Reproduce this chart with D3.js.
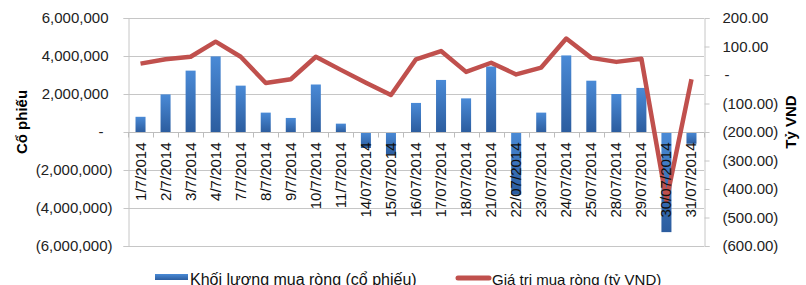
<!DOCTYPE html>
<html>
<head>
<meta charset="utf-8">
<script src="https://cdn.jsdelivr.net/npm/d3@7"></script>
<style>
  body { margin: 0; background: #fff; }
  text { font-family: "Liberation Sans", Arial, sans-serif; }
</style>
</head>
<body>
<script>
// categories (trading days, July 2014)
var dates = ["1/7/2014", "2/7/2014", "3/7/2014", "4/7/2014", "7/7/2014", "8/7/2014",
  "9/7/2014", "10/7/2014", "11/7/2014", "14/07/2014", "15/07/2014", "16/07/2014",
  "17/07/2014", "18/07/2014", "21/07/2014", "22/07/2014", "23/07/2014", "24/07/2014",
  "25/07/2014", "28/07/2014", "29/07/2014", "30/07/2014", "31/07/2014"];

// net buy volume (shares)
var volume = [800000, 1980000, 3230000, 3980000, 2440000, 1020000, 740000, 2500000,
  440000, -840000, -1190000, 1530000, 2740000, 1770000, 3450000, -3300000, 1020000,
  4030000, 2700000, 2000000, 2320000, -5270000, -620000];

// net buy value (billion VND)
var value = [40, 55, 64, 117, 64, -28, -15, 64, 18, -27, -70, 55, 84, 11, 43, 2, 26,
  128, 60, 46, 57, -440, -15];

var leftTicks = [-6000000, -4000000, -2000000, 0, 2000000, 4000000, 6000000];
var rightTicks = [-600, -500, -400, -300, -200, -100, 0, 100, 200];

var W = 806, H = 285;
var x0 = 128, x1 = 704, yTop = 18, yBot = 246;

var svg = d3.select("body").append("svg")
    .attr("width", W)
    .attr("height", H);

var defs = svg.append("defs");
var grad = defs.append("linearGradient")
    .attr("id", "barGrad")
    .attr("x1", 0).attr("y1", 0).attr("x2", 0).attr("y2", 1);
grad.append("stop").attr("offset", "0%").attr("stop-color", "#4a8ad6");
grad.append("stop").attr("offset", "100%").attr("stop-color", "#2c5d9f");

var x = d3.scaleBand()
    .domain(dates)
    .range([x0, x1])
    .paddingInner(0.6)
    .paddingOuter(0.3);

var yL = d3.scaleLinear().domain([-6000000, 6000000]).range([yBot, yTop]);
var yR = d3.scaleLinear().domain([-600, 200]).range([yBot, yTop]);

var fmtL = function (v) {
  if (v === 0) return "-";
  var s = d3.format(",")(Math.abs(v));
  return v < 0 ? "(" + s + ")" : s;
};
var fmtR = function (v) {
  if (v === 0) return "-";
  var s = d3.format(".2f")(Math.abs(v));
  return v < 0 ? "(" + s + ")" : s;
};

// gridlines
svg.append("g").selectAll("line")
    .data(leftTicks)
    .enter().append("line")
    .attr("x1", x0).attr("x2", x1)
    .attr("y1", function (d) { return Math.round(yL(d)) + 0.5; })
    .attr("y2", function (d) { return Math.round(yL(d)) + 0.5; })
    .attr("stroke", "#c6c6c6")
    .attr("stroke-width", 1);

// left axis
var axL = svg.append("g").attr("transform", "translate(" + (x0 + 0.5) + ",0)");
axL.call(d3.axisLeft(yL).tickValues(leftTicks).tickSize(5).tickFormat(fmtL));
axL.select(".domain").attr("stroke", "#c6c6c6");
axL.selectAll(".tick line").attr("stroke", "#c6c6c6");
axL.selectAll(".tick text")
    .attr("font-size", "15px")
    .attr("fill", "#222")
    .attr("font-family", "Liberation Sans, Arial, sans-serif")
    .attr("x", function (d) { return d < 0 ? -16 : (d === 0 ? -25 : -20); });

// right axis
var axR = svg.append("g").attr("transform", "translate(" + (x1 + 0.5) + ",0)");
axR.call(d3.axisRight(yR).tickValues(rightTicks).tickSize(5).tickFormat(fmtR));
axR.select(".domain").attr("stroke", "#c6c6c6");
axR.selectAll(".tick line").attr("stroke", "#c6c6c6");
axR.selectAll(".tick text")
    .attr("font-size", "15px")
    .attr("fill", "#222")
    .attr("font-family", "Liberation Sans, Arial, sans-serif")
    .attr("x", function (d) { return d === 0 ? 20 : 18; });

// bars
svg.append("g").selectAll("rect")
    .data(volume)
    .enter().append("rect")
    .attr("x", function (d, i) { return x(dates[i]); })
    .attr("width", x.bandwidth())
    .attr("y", function (d) { return yL(Math.max(0, d)); })
    .attr("height", function (d) { return Math.abs(yL(d) - yL(0)); })
    .attr("fill", "url(#barGrad)");

// category axis line + ticks
var y0 = Math.round(yL(0)) + 0.5;
svg.append("line")
    .attr("x1", x0).attr("x2", x1)
    .attr("y1", y0).attr("y2", y0)
    .attr("stroke", "#bdbdbd");
svg.append("g").selectAll("line")
    .data(dates.concat(["end"]))
    .enter().append("line")
    .attr("x1", function (d, i) { return Math.round(x0 + i * x.step()) + 0.5; })
    .attr("x2", function (d, i) { return Math.round(x0 + i * x.step()) + 0.5; })
    .attr("y1", y0).attr("y2", y0 + 5)
    .attr("stroke", "#bdbdbd");

// line series
var line = d3.line()
    .x(function (d, i) { return x(dates[i]) + x.bandwidth() / 2; })
    .y(function (d) { return yR(d); });
svg.append("path")
    .datum(value)
    .attr("d", line)
    .attr("fill", "none")
    .attr("stroke", "#c0504d")
    .attr("stroke-width", 4.5)
    .attr("stroke-linejoin", "round");

// category labels (rotated, on top)
svg.append("g").selectAll("text")
    .data(dates)
    .enter().append("text")
    .attr("transform", function (d) {
      return "translate(" + (x(d) + x.bandwidth() / 2 + 5) + "," + (y0 + 10) + ") rotate(-90)";
    })
    .attr("text-anchor", "end")
    .attr("font-size", "15px")
    .attr("fill", "#111")
    .text(function (d) { return d; });

// axis titles
svg.append("text")
    .attr("transform", "translate(27,122) rotate(-90)")
    .attr("text-anchor", "middle")
    .attr("font-size", "15px")
    .attr("font-weight", "bold")
    .text("Cổ phiếu");
svg.append("text")
    .attr("transform", "translate(796,122) rotate(-90)")
    .attr("text-anchor", "middle")
    .attr("font-size", "15px")
    .attr("font-weight", "bold")
    .text("Tỷ VND");

// legend
var lg = svg.append("g");
lg.append("rect")
    .attr("x", 155).attr("y", 274).attr("width", 33).attr("height", 6)
    .attr("fill", "url(#barGrad)");
lg.append("text")
    .attr("x", 190).attr("y", 285)
    .attr("font-size", "16px")
    .attr("fill", "#111")
    .text("Khối lượng mua ròng (cổ phiếu)");
lg.append("line")
    .attr("x1", 458).attr("x2", 489).attr("y1", 278).attr("y2", 278)
    .attr("stroke", "#c0504d").attr("stroke-width", 5)
    .attr("stroke-linecap", "round");
lg.append("text")
    .attr("x", 492).attr("y", 285)
    .attr("font-size", "15px")
    .attr("fill", "#111")
    .text("Giá tri mua ròng (tỷ VND)");
</script>
</body>
</html>
